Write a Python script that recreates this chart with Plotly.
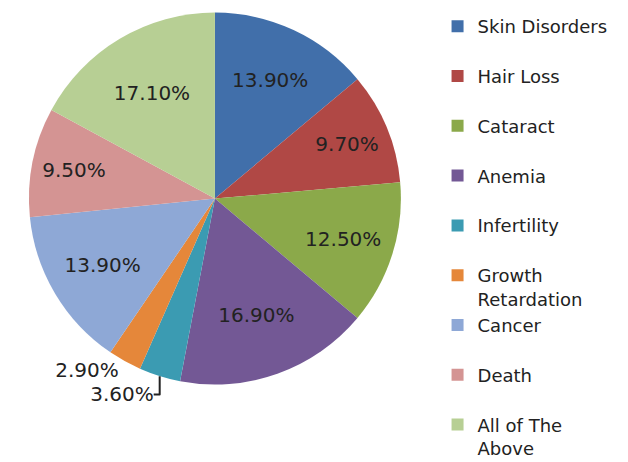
import plotly.graph_objects as go

categories = ["Skin Disorders", "Hair Loss", "Cataract", "Anemia", "Infertility",
              "Growth<br>Retardation", "Cancer", "Death", "All of The<br>Above"]
values = [13.9, 9.7, 12.5, 16.9, 3.6, 2.9, 13.9, 9.5, 17.1]
colors = ["#416FAA", "#B04845", "#8BA94A", "#735895", "#3B9BB2",
          "#E5873A", "#8EA8D6", "#D49493", "#B7CF94"]
text_labels = ["%.2f%%" % v for v in values]
positions = ["inside" if v > 5 else "outside" for v in values]

# legend labels: pad single-line entries to two lines for even spacing
legend_labels = [c if "<br>" in c else c + "<br> " for c in categories]

fig = go.Figure(go.Pie(
    labels=legend_labels,
    values=values,
    text=text_labels,
    textinfo="text",
    textposition=positions,
    insidetextorientation="horizontal",
    sort=False,
    direction="clockwise",
    rotation=0,
    marker=dict(colors=colors, line=dict(width=0)),
    textfont=dict(family="DejaVu Sans", size=20, color="#222222"),
    domain=dict(x=[0.027, 0.632], y=[0.185, 0.99]),
    hoverinfo="label+text",
))

fig.update_layout(
    width=628, height=462,
    margin=dict(l=0, r=0, t=0, b=0),
    paper_bgcolor="white",
    showlegend=True,
    legend=dict(
        x=0.684, y=1.0, xanchor="left", yanchor="top",
        font=dict(family="DejaVu Sans", size=18, color="#222222"),
        valign="top",
        traceorder="normal",
        itemwidth=30,
    ),
)

fig.write_html("out.html")
